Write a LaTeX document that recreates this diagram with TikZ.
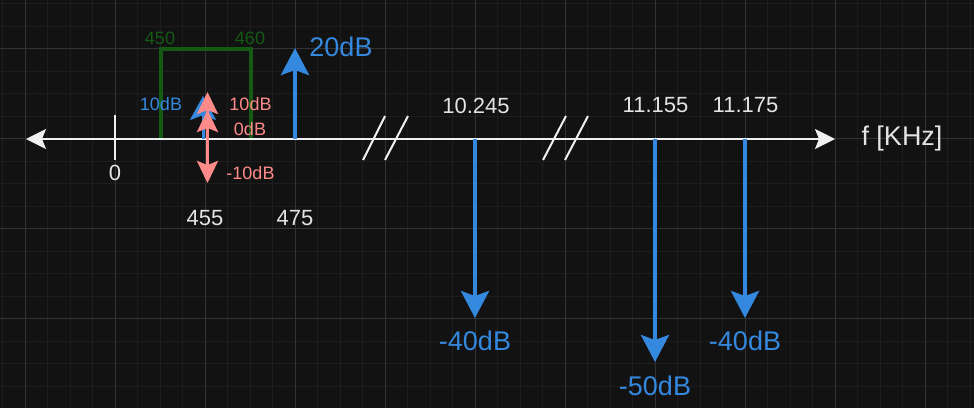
\documentclass[tikz,border=0pt]{standalone}
\usepackage{fontspec}
\setmainfont{Liberation Sans}
\usetikzlibrary{arrows.meta}
\definecolor{bgc}{HTML}{121212}
\definecolor{gridmin}{HTML}{1D1D1D}
\definecolor{gridmaj}{HTML}{333333}
\definecolor{axisc}{HTML}{F0F0F0}
\definecolor{lblc}{HTML}{E3E3E3}
\definecolor{bluec}{HTML}{3488DE}
\definecolor{pinkc}{HTML}{FF8A8A}
\definecolor{greenc}{HTML}{145A14}
\tikzset{
  lbl/.style={inner sep=0pt, anchor=center, text=lblc},
  fs/.style={font=\fontsize{#1}{#1}\selectfont},
  bluearr/.style={draw=bluec, line width=4pt, -{Stealth[length=27pt,width=28pt,inset=5pt]}},
  pinkarr/.style={draw=pinkc, line width=3pt, -{Stealth[length=22pt,width=21pt,inset=4pt]}},
  smallblue/.style={draw=bluec, line width=3pt, -{Stealth[length=24pt,width=26pt,inset=5pt]}},
  axisline/.style={draw=axisc, line width=2pt, {Stealth[length=20pt,width=20pt,inset=4pt]}-{Stealth[length=20pt,width=20pt,inset=4pt]}},
  breakmark/.style={draw=axisc, line width=2pt},
  bracket/.style={draw=greenc, line width=3.5pt, line join=miter},
}
\begin{document}
\begin{tikzpicture}[x=1pt,y=-1pt]
\useasboundingbox (0,0) rectangle (974,408);
\fill[bgc] (0,0) rectangle (974,408);
% grid
\foreach \gx in {2.5,25,...,974} {\draw[gridmin, line width=0.8pt] (\gx,0) -- (\gx,408);}
\foreach \gy in {3.5,26,...,408} {\draw[gridmin, line width=0.8pt] (0,\gy) -- (974,\gy);}
\foreach \gx in {25,115,...,974} {\draw[gridmaj, line width=1pt] (\gx,0) -- (\gx,408);}
\foreach \gy in {48.5,138.5,...,408} {\draw[gridmaj, line width=1pt] (0,\gy) -- (974,\gy);}

% coordinates
\coordinate (axL) at (26,139);
\coordinate (axR) at (835,139);
\coordinate (t0a) at (115,115);
\coordinate (t0b) at (115,160);
\coordinate (gBL) at (161,139);
\coordinate (gTL) at (161,49);
\coordinate (gTR) at (251,49);
\coordinate (gBR) at (251,139);
\coordinate (b455a) at (203,139);
\coordinate (b455b) at (203,96);
\coordinate (p455a) at (207.5,139);
\coordinate (p455up) at (207.5,92);
\coordinate (p455mid) at (207.5,110);
\coordinate (p455dn) at (207.5,183);
\coordinate (b475a) at (295,139);
\coordinate (b475b) at (295,48);
\coordinate (b10a) at (475,139);
\coordinate (b10b) at (475,318);
\coordinate (b11a) at (655,139);
\coordinate (b11b) at (655,362);
\coordinate (b12a) at (745,139);
\coordinate (b12b) at (745,318);
\coordinate (s1a) at (363,160);
\coordinate (s1b) at (385,116);
\coordinate (s2a) at (385,160);
\coordinate (s2b) at (408,116);
\coordinate (s3a) at (543,160);
\coordinate (s3b) at (566,116);
\coordinate (s4a) at (565,160);
\coordinate (s4b) at (588,116);

% green passband bracket
\draw[bracket] (gBL) -- (gTL) -- (gTR) -- (gBR);

% axis
\draw[axisline] (axL) -- (axR);
\draw[draw=axisc, line width=2pt] (t0a) -- (t0b);
\draw[breakmark] (s1a) -- (s1b);
\draw[breakmark] (s2a) -- (s2b);
\draw[breakmark] (s3a) -- (s3b);
\draw[breakmark] (s4a) -- (s4b);

% spectral lines
\draw[smallblue] (b455a) -- (b455b);
\draw[pinkarr] (p455a) -- (p455up);
\draw[pinkarr] (p455a) -- (p455mid);
\draw[pinkarr] (p455a) -- (p455dn);
\draw[bluearr] (b475a) -- (b475b);
\draw[bluearr] (b10a) -- (b10b);
\draw[bluearr] (b11a) -- (b11b);
\draw[bluearr] (b12a) -- (b12b);

% labels
\node[lbl, text=greenc, fs=18] (l450) at (160,38) {450};
\node[lbl, text=greenc, fs=18] (l460) at (250,38) {460};
\node[lbl, text=bluec, fs=18] (l10b) at (161,104.5) {10dB};
\node[lbl, text=pinkc, fs=18] (l10p) at (250.5,104.5) {10dB};
\node[lbl, text=pinkc, fs=18] (l0p) at (250,129.5) {0dB};
\node[lbl, text=pinkc, fs=18] (lm10p) at (250.5,173) {-10dB};
\node[lbl, fs=22] (l0) at (115,172.5) {0};
\node[lbl, fs=22] (l455) at (205,218) {455};
\node[lbl, fs=22] (l475) at (295,218) {475};
\node[lbl, text=bluec, fs=27] (l20) at (341,46.5) {20dB};
\node[lbl, fs=22] (l10245) at (476,106) {10.245};
\node[lbl, fs=22] (l11155) at (655.5,105.5) {11.155};
\node[lbl, fs=22] (l11175) at (745.5,105.5) {11.175};
\node[lbl, fs=27] (lf) at (902,139) {f [KHz]};
\node[lbl, text=bluec, fs=27] (lm40a) at (475,341) {-40dB};
\node[lbl, text=bluec, fs=27] (lm50) at (655,386) {-50dB};
\node[lbl, text=bluec, fs=27] (lm40b) at (745,341) {-40dB};
\end{tikzpicture}
\end{document}
